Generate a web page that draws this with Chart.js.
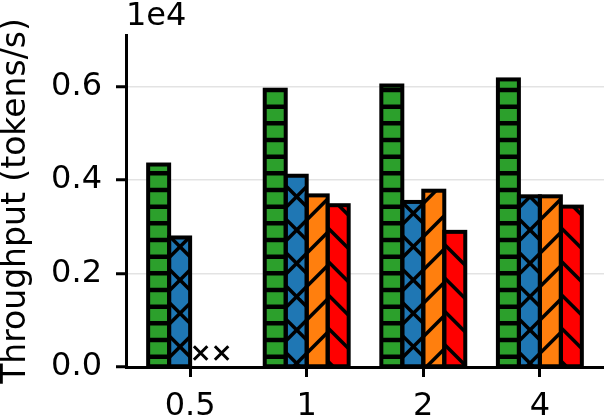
<!DOCTYPE html>
<html>
<head>
<meta charset="utf-8">
<script src="https://cdn.jsdelivr.net/npm/chart.js@4.4.1/dist/chart.umd.min.js"></script>
<style>
  body { margin: 0; background: #fff; }
</style>
</head>
<body>
<canvas id="grafico" width="604" height="417"></canvas>
<script>
// Dados
var categorias = ['0.5', '1', '2', '4'];
var serieVerde = [4330, 5930, 6020, 6150];
var serieAzul = [2770, 4090, 3530, 3650];
var serieLaranja = [null, 3670, 3770, 3650];
var serieVermelha = [null, 3460, 2890, 3430];
var marcaFalta = [{cat: 0, serie: 2, y: 300}, {cat: 0, serie: 3, y: 300}];
var yTicks = [0, 2000, 4000, 6000];
var yMax = 7100;
var larguraBarra = 0.18;

// padrões de hachura (alinhados à origem do canvas)
function hachura(cor, tipo) {
    var c = document.createElement('canvas');
    c.width = 100; c.height = 100;
    var g = c.getContext('2d');
    g.fillStyle = cor;
    g.fillRect(0, 0, 100, 100);
    g.strokeStyle = '#000';
    var passo = 100 / 3;
    if (tipo.indexOf('-') >= 0) {
        g.lineWidth = 4.5;
        for (var y = 6.667; y < 100; y += passo / 2) {
            g.beginPath(); g.moveTo(-5, y); g.lineTo(105, y); g.stroke();
        }
    }
    g.lineWidth = 3.5;
    if (tipo.indexOf('/') >= 0) {
        for (var k = 26.667 - 200; k < 300; k += passo) {
            g.beginPath(); g.moveTo(-10, k + 10); g.lineTo(110, k - 110); g.stroke();
        }
    }
    if (tipo.indexOf('\\') >= 0) {
        for (var k2 = -200; k2 < 300; k2 += passo) {
            g.beginPath(); g.moveTo(-10, k2 - 10); g.lineTo(110, k2 + 110); g.stroke();
        }
    }
    return g.createPattern(c, 'repeat');
}

function pontos(valores) {
    return valores.map(function(v, i) { return {x: i, y: v}; });
}

// contornos das barras centrados na aresta (como no matplotlib)
var contornos = {
    id: 'contornos',
    afterDatasetsDraw: function(chart) {
        var ctx = chart.ctx;
        ctx.save();
        ctx.strokeStyle = '#000';
        ctx.lineWidth = 4;
        chart.data.datasets.forEach(function(ds, i) {
            if (ds.type === 'scatter') return;
            chart.getDatasetMeta(i).data.forEach(function(el, j) {
                if (ds.data[j].y === null) return;
                var p = el.getProps(['x', 'y', 'base', 'width'], true);
                ctx.strokeRect(p.x - p.width / 2, p.y, p.width, p.base - p.y);
            });
        });
        ctx.restore();
    }
};

var offsetTexto = {
    id: 'offsetTexto',
    afterDraw: function(chart) {
        var ctx = chart.ctx;
        ctx.save();
        ctx.font = '32px "DejaVu Sans"';
        ctx.fillStyle = '#000';
        ctx.textBaseline = 'alphabetic';
        ctx.fillText('1e4', chart.chartArea.left, chart.chartArea.top - 10);
        ctx.restore();
    }
};

var fonte = {family: '"DejaVu Sans"', size: 32};

var grafico = new Chart(document.getElementById('grafico'), {
    type: 'bar',
    data: {
        datasets: [
            {label: 'a', data: pontos(serieVerde), backgroundColor: hachura('#2ca02c', '-'), borderWidth: 0},
            {label: 'b', data: pontos(serieAzul), backgroundColor: hachura('#1f77b4', '/\\'), borderWidth: 0},
            {label: 'c', data: pontos(serieLaranja), backgroundColor: hachura('#ff7f0e', '/'), borderWidth: 0},
            {label: 'd', data: pontos(serieVermelha), backgroundColor: hachura('#ff0000', '\\'), borderWidth: 0},
            {
                type: 'scatter',
                order: -1,
                data: marcaFalta.map(function(m) {
                    return {x: m.cat + (m.serie - 1.5) * larguraBarra, y: m.y};
                }),
                pointStyle: 'crossRot',
                radius: 9.5,
                borderWidth: 3,
                borderColor: '#000',
                backgroundColor: '#000'
            }
        ]
    },
    options: {
        responsive: false,
        animation: false,
        categoryPercentage: larguraBarra * 4,
        barPercentage: 1,
        layout: {autoPadding: false, padding: {top: 35, left: 0, right: 0, bottom: 0}},
        plugins: {legend: {display: false}, tooltip: {enabled: false}},
        scales: {
            x: {
                type: 'linear',
                min: -0.55,
                max: 3.55,
                offset: false,
                border: {display: true, color: '#000', width: 3},
                grid: {display: true, offset: false, drawOnChartArea: false, drawTicks: true, tickLength: 10, tickWidth: 3, tickColor: '#000'},
                afterBuildTicks: function(s) {
                    s.ticks = categorias.map(function(c, i) { return {value: i}; });
                },
                ticks: {
                    autoSkip: false,
                    maxRotation: 0,
                    padding: 10,
                    color: '#000',
                    font: fonte,
                    callback: function(v) { return categorias[v]; }
                },
                afterFit: function(s) {
                    s.height = 50;
                    s.paddingLeft = 0;
                    s.paddingRight = 0;
                }
            },
            y: {
                min: 0,
                max: yMax,
                border: {display: true, color: '#000', width: 3},
                grid: {color: 'rgba(0,0,0,0.11)', lineWidth: 1.5, tickLength: 10, tickWidth: 3, tickColor: '#000'},
                afterBuildTicks: function(s) {
                    s.ticks = yTicks.map(function(v) { return {value: v}; });
                },
                ticks: {
                    padding: 14,
                    color: '#000',
                    font: fonte,
                    callback: function(v) { return (v / 1e4).toFixed(1); }
                },
                title: {
                    display: true,
                    text: 'Throughput (tokens/s)',
                    color: '#000',
                    font: {family: '"DejaVu Sans"', size: 33, lineHeight: 1},
                    padding: 0
                },
                afterFit: function(s) {
                    s.width = 126;
                    s.paddingTop = 0;
                    s.paddingBottom = 0;
                }
            }
        }
    },
    plugins: [contornos, offsetTexto]
});
</script>
</body>
</html>
